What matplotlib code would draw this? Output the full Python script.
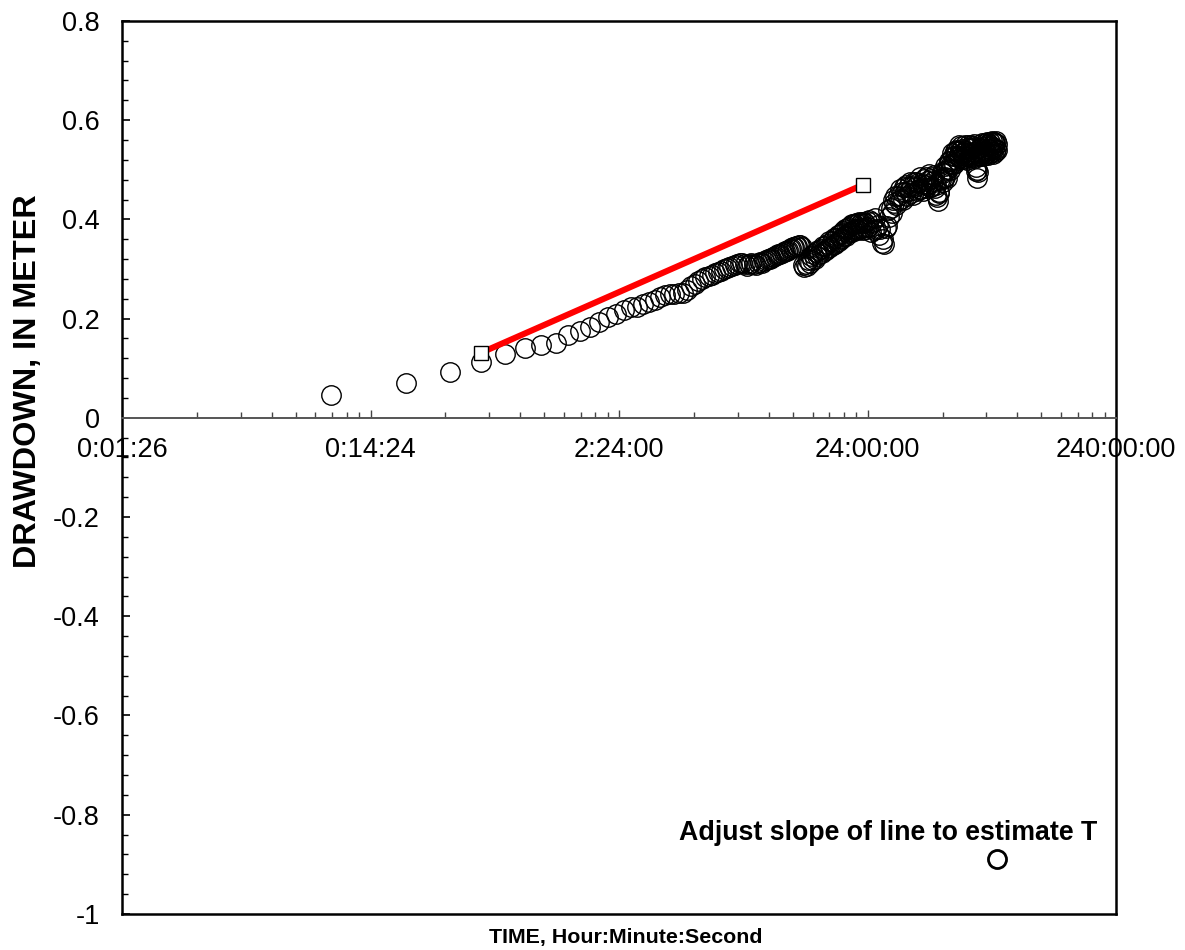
import numpy as np
import matplotlib
matplotlib.use("Agg")
import matplotlib.pyplot as plt
from matplotlib.ticker import LogLocator, MultipleLocator, FuncFormatter, NullFormatter

plt.rcParams['font.family'] = ['Liberation Sans', 'DejaVu Sans']
plt.rcParams['axes.unicode_minus'] = False

# drawdown (m), logged every 10 minutes for the first day
dd_day1 = [
    0.046, 0.070, 0.093, 0.112, 0.128, 0.141, 0.147, 0.151, 0.166, 0.174,
    0.183, 0.194, 0.203, 0.209, 0.218, 0.223, 0.223, 0.230, 0.234, 0.238,
    0.243, 0.248, 0.249, 0.250, 0.251, 0.251, 0.258, 0.265, 0.270, 0.275,
    0.279, 0.283, 0.285, 0.288, 0.291, 0.294, 0.296, 0.299, 0.302, 0.304,
    0.306, 0.308, 0.310, 0.311, 0.312, 0.310, 0.306, 0.309, 0.311, 0.310,
    0.308, 0.312, 0.314, 0.313, 0.316, 0.318, 0.321, 0.320, 0.323, 0.325,
    0.327, 0.329, 0.331, 0.330, 0.333, 0.335, 0.337, 0.336, 0.339, 0.341,
    0.342, 0.344, 0.345, 0.347, 0.346, 0.348, 0.349, 0.345, 0.308, 0.303,
    0.310, 0.305, 0.318, 0.313, 0.326, 0.318, 0.330, 0.320, 0.334, 0.327,
    0.338, 0.330, 0.340, 0.333, 0.346, 0.337, 0.346, 0.339, 0.351, 0.343,
    0.356, 0.344, 0.357, 0.348, 0.362, 0.350, 0.363, 0.354, 0.368, 0.356,
    0.370, 0.360, 0.373, 0.362, 0.376, 0.366, 0.380, 0.367, 0.382, 0.372,
    0.384, 0.374, 0.388, 0.375, 0.390, 0.379, 0.391, 0.380, 0.392, 0.381,
    0.393, 0.378, 0.394, 0.381, 0.393, 0.382, 0.394, 0.378, 0.395, 0.384,
    0.393, 0.380, 0.396, 0.384,
]

# drawdown (m), logged every 20 minutes after the first day
dd_later = [
    0.398, 0.374, 0.394, 0.379, 0.402, 0.381, 0.389, 0.369, 0.380, 0.353,
    0.361, 0.350, 0.382, 0.386, 0.419, 0.404, 0.423, 0.413, 0.440, 0.432,
    0.448, 0.429, 0.448, 0.440, 0.462, 0.441, 0.455, 0.440, 0.465, 0.455,
    0.470, 0.447, 0.465, 0.457, 0.476, 0.454, 0.468, 0.450, 0.475, 0.465,
    0.476, 0.457, 0.474, 0.462, 0.485, 0.462, 0.472, 0.458, 0.482, 0.469,
    0.485, 0.464, 0.478, 0.471, 0.492, 0.466, 0.481, 0.465, 0.486, 0.478,
    0.489, 0.464, 0.470, 0.449, 0.446, 0.436, 0.453, 0.456, 0.482, 0.479,
    0.495, 0.475, 0.493, 0.484, 0.507, 0.485, 0.499, 0.484, 0.510, 0.502,
    0.518, 0.499, 0.518, 0.511, 0.534, 0.512, 0.527, 0.512, 0.537, 0.528,
    0.540, 0.520, 0.538, 0.527, 0.549, 0.527, 0.538, 0.523, 0.547, 0.534,
    0.542, 0.521, 0.535, 0.528, 0.549, 0.523, 0.538, 0.520, 0.543, 0.535,
    0.549, 0.525, 0.544, 0.532, 0.550, 0.529, 0.543, 0.524, 0.548, 0.535,
    0.551, 0.524, 0.527, 0.498, 0.505, 0.484, 0.499, 0.495, 0.527, 0.529,
    0.544, 0.527, 0.543, 0.533, 0.553, 0.531, 0.541, 0.528, 0.551, 0.538,
    0.553, 0.530, 0.549, 0.537, 0.555, 0.534, 0.548, 0.530, 0.552, 0.542,
    0.556, 0.533, 0.547, 0.540, 0.557, 0.536, 0.546, 0.532, 0.555, 0.544,
    0.555, 0.536, 0.553, 0.542, 0.557, 0.539, 0.551,
]

# bad reading at the end of the record
bad_dd = [-0.889]

# straight-line fit, two end points (days, m)
fit_t = [0.0278, 0.96]
fit_dd = [0.131, 0.470]

t_day1 = 10 * np.arange(1, len(dd_day1) + 1) / 1440.0
t_later = (1440 + 20 * np.arange(1, len(dd_later) + 1)) / 1440.0
t_all = np.concatenate([t_day1, t_later])
dd_all = np.array(dd_day1 + dd_later)
bad_t = [t_all[-1]]


def hms(d, pos=None):
    s = int(round(d * 86400))
    return f"{s // 3600}:{(s % 3600) // 60:02d}:{s % 60:02d}"


fig = plt.figure(figsize=(11.85, 9.5), dpi=100)
ax = fig.add_axes([0.103, 0.038, 0.839, 0.940])

ax.plot(t_all, dd_all, 'o', ms=14, mfc='none', mec='black', mew=1.0)
ax.plot(bad_t, bad_dd, 'o', ms=13, mfc='none', mec='black', mew=2.0)
ax.plot(fit_t, fit_dd, '-', color='#ff0000', lw=4.4, zorder=3)
ax.plot(fit_t, fit_dd, 's', ms=10, mfc='white', mec='black', mew=1.0, zorder=4)

ax.set_xscale('log')
ax.set_xlim(0.001, 10)
ax.set_ylim(-1, 0.8)

ax.xaxis.set_major_locator(LogLocator(base=10, numticks=10))
ax.xaxis.set_minor_locator(LogLocator(base=10, subs=np.arange(2, 10), numticks=20))
ax.xaxis.set_major_formatter(FuncFormatter(hms))
ax.xaxis.set_minor_formatter(NullFormatter())
ax.yaxis.set_major_locator(MultipleLocator(0.2))
ax.yaxis.set_minor_locator(MultipleLocator(0.04))
ax.yaxis.set_major_formatter(FuncFormatter(lambda v, p: f"{round(v, 1):g}"))

# x axis runs through zero drawdown
ax.spines['bottom'].set_position(('data', 0))
ax.spines['bottom'].set_color('#555555')
ax.spines['bottom'].set_linewidth(1.4)
for side in ('left', 'top', 'right'):
    ax.spines[side].set_linewidth(1.8)
ax.plot([0, 1], [0, 0], transform=ax.transAxes, color='black', lw=1.8,
        clip_on=False, solid_capstyle='projecting')

ax.tick_params(axis='x', which='major', direction='in', length=6, width=1,
               color='#444444', labelsize=19.5, pad=14)
ax.tick_params(axis='x', which='minor', direction='in', length=4, width=1,
               color='#444444')
ax.tick_params(axis='y', which='major', direction='in', length=5.5, width=1.2,
               labelsize=19.5, pad=16)
ax.tick_params(axis='y', which='minor', direction='in', length=4, width=1)

fig.text(0.024, 1 - 381 / 950, 'DRAWDOWN, IN METER', rotation=90,
         ha='center', va='center', fontsize=23.3, fontweight='bold')
fig.text(626 / 1185, 1 - 937 / 950, 'TIME, Hour:Minute:Second',
         ha='center', va='center', fontsize=15.4, fontweight='bold')
ax.annotate('Adjust slope of line to estimate T', xy=(1097 / 1185, 1 - 833 / 950),
            xycoords='figure fraction', ha='right', va='center',
            fontsize=19.3, fontweight='bold')

fig.savefig('out.png', dpi=100)
